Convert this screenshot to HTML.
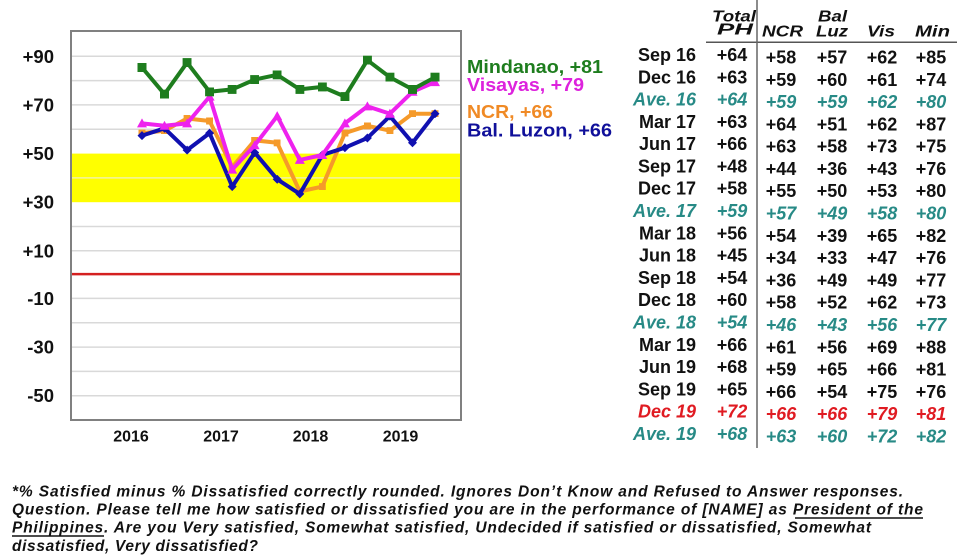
<!DOCTYPE html>
<html>
<head>
<meta charset="utf-8">
<style>
html,body{margin:0;padding:0;background:#fff;}
svg{display:block;}
text{font-family:"Liberation Sans",Arial,sans-serif;font-weight:bold;}
</style>
</head>
<body>
<svg width="960" height="556" viewBox="0 0 960 556" xmlns="http://www.w3.org/2000/svg">
<defs>
<marker id="mg" markerWidth="9" markerHeight="9" refX="4.5" refY="4.5" markerUnits="userSpaceOnUse"><rect width="9" height="9" fill="#1e7d1e"/></marker>
<marker id="mo" markerWidth="7" markerHeight="7" refX="3.5" refY="3.5" markerUnits="userSpaceOnUse"><rect width="7" height="7" fill="#f59a2a"/></marker>
<marker id="mb" markerWidth="9" markerHeight="9" refX="4.5" refY="4.5" markerUnits="userSpaceOnUse"><polygon points="4.5,0 9,4.5 4.5,9 0,4.5" fill="#1010b0"/></marker>
<marker id="mm" markerWidth="10" markerHeight="10" refX="5" refY="5" markerUnits="userSpaceOnUse"><polygon points="5,0 10,9 0,9" fill="#ee22ee"/></marker>
</defs>
<rect width="960" height="556" fill="#fff"/>

<!-- plot -->
<rect x="71" y="31" width="390" height="389" fill="#fff"/>
<rect x="71" y="153.6" width="390" height="48.6" fill="#ffff00"/>
<g stroke="#d9d9d9" stroke-width="1.5">
<line x1="71" x2="461" y1="56.3" y2="56.3"/>
<line x1="71" x2="461" y1="80.6" y2="80.6"/>
<line x1="71" x2="461" y1="104.9" y2="104.9"/>
<line x1="71" x2="461" y1="129.3" y2="129.3"/>
<line x1="71" x2="461" y1="226.5" y2="226.5"/>
<line x1="71" x2="461" y1="250.8" y2="250.8"/>
<line x1="71" x2="461" y1="298.4" y2="298.4"/>
<line x1="71" x2="461" y1="322.7" y2="322.7"/>
<line x1="71" x2="461" y1="347.1" y2="347.1"/>
<line x1="71" x2="461" y1="371.4" y2="371.4"/>
<line x1="71" x2="461" y1="395.7" y2="395.7"/>
</g>
<line x1="71" x2="461" y1="177.9" y2="177.9" stroke="#f2f2a0" stroke-width="1.5"/>
<line x1="71" x2="461" y1="274.1" y2="274.1" stroke="#d42020" stroke-width="2.5"/>
<rect x="71" y="31" width="390" height="389" fill="none" stroke="#808080" stroke-width="2"/>

<!-- series -->
<polyline fill="none" stroke="#f59a2a" stroke-width="4" stroke-linejoin="round" marker-start="url(#mo)" marker-mid="url(#mo)" marker-end="url(#mo)"
points="142,133.1 164.5,130.7 187.1,118.5 209.6,121.0 232.2,167.2 254.7,140.4 277.2,142.8 299.8,191.5 322.3,186.6 344.9,133.1 367.4,125.8 389.9,130.7 412.5,113.7 435,113.7"/>
<polyline fill="none" stroke="#1010b0" stroke-width="4" stroke-linejoin="round" marker-start="url(#mb)" marker-mid="url(#mb)" marker-end="url(#mb)"
points="142,135.6 164.5,128.3 187.1,150.1 209.6,133.1 232.2,186.6 254.7,152.6 277.2,179.3 299.8,193.9 322.3,155.0 344.9,147.7 367.4,138.0 389.9,116.1 412.5,142.8 435,113.7"/>
<polyline fill="none" stroke="#ee22ee" stroke-width="4" stroke-linejoin="round" marker-start="url(#mm)" marker-mid="url(#mm)" marker-end="url(#mm)"
points="142,123.4 164.5,125.8 187.1,123.4 209.6,96.6 232.2,169.6 254.7,145.3 277.2,116.1 299.8,159.9 322.3,155.0 344.9,123.4 367.4,106.4 389.9,113.7 412.5,91.8 435,82.1"/>
<polyline fill="none" stroke="#1e7d1e" stroke-width="4" stroke-linejoin="round" marker-start="url(#mg)" marker-mid="url(#mg)" marker-end="url(#mg)"
points="142,67.5 164.5,94.2 187.1,62.6 209.6,91.8 232.2,89.4 254.7,79.6 277.2,74.8 299.8,89.4 322.3,86.9 344.9,96.6 367.4,60.2 389.9,77.2 412.5,89.4 435,77.2"/>

<!-- y labels -->
<g font-size="18.5" text-anchor="end" fill="#111">
<text x="54" y="62.8">+90</text>
<text x="54" y="111.4">+70</text>
<text x="54" y="160.1">+50</text>
<text x="54" y="208.7">+30</text>
<text x="54" y="257.3">+10</text>
<text x="54" y="304.9">-10</text>
<text x="54" y="353.6">-30</text>
<text x="54" y="402.2">-50</text>
</g>
<!-- x labels -->
<g font-size="16" text-anchor="middle" fill="#111">
<text x="131" y="441.5">2016</text>
<text x="221" y="441.5">2017</text>
<text x="310.5" y="441.5">2018</text>
<text x="400.5" y="441.5">2019</text>
</g>

<!-- legend -->
<g font-size="18.5">
<text x="467" y="73" fill="#1e7d1e" textLength="136" lengthAdjust="spacingAndGlyphs">Mindanao, +81</text>
<text x="467" y="91" fill="#dd22dd" textLength="117" lengthAdjust="spacingAndGlyphs">Visayas, +79</text>
<text x="467" y="118" fill="#f08a25" textLength="86" lengthAdjust="spacingAndGlyphs">NCR, +66</text>
<text x="467" y="136.5" fill="#10109a" textLength="145" lengthAdjust="spacingAndGlyphs">Bal. Luzon, +66</text>
</g>

<!-- table header -->
<g font-size="15.5" font-style="italic" fill="#111">
<text x="712" y="21.3" textLength="44" lengthAdjust="spacingAndGlyphs">Total</text>
<text x="717" y="34.5" textLength="36" lengthAdjust="spacingAndGlyphs">PH</text>
<text x="762" y="36.7" textLength="41" lengthAdjust="spacingAndGlyphs">NCR</text>
<text x="818" y="21.3" textLength="29" lengthAdjust="spacingAndGlyphs">Bal</text>
<text x="816" y="36.7" textLength="32" lengthAdjust="spacingAndGlyphs">Luz</text>
<text x="867" y="36.7" textLength="28" lengthAdjust="spacingAndGlyphs">Vis</text>
<text x="915" y="36.7" textLength="35" lengthAdjust="spacingAndGlyphs">Min</text>
</g>
<line x1="706" x2="957" y1="42.3" y2="42.3" stroke="#555" stroke-width="1.5"/>
<line x1="757" x2="757" y1="0" y2="448" stroke="#666" stroke-width="1.5"/>

<!-- table rows -->
<g font-size="18" fill="#111">
<g text-anchor="end">
<text x="696" y="61">Sep 16</text>
<text x="696" y="83.3">Dec 16</text>
<text x="696" y="105.6" fill="#278a86" font-style="italic">Ave. 16</text>
<text x="696" y="127.9">Mar 17</text>
<text x="696" y="150.2">Jun 17</text>
<text x="696" y="172.5">Sep 17</text>
<text x="696" y="194.7">Dec 17</text>
<text x="696" y="217" fill="#278a86" font-style="italic">Ave. 17</text>
<text x="696" y="239.3">Mar 18</text>
<text x="696" y="261.6">Jun 18</text>
<text x="696" y="283.9">Sep 18</text>
<text x="696" y="306.2">Dec 18</text>
<text x="696" y="328.5" fill="#278a86" font-style="italic">Ave. 18</text>
<text x="696" y="350.8">Mar 19</text>
<text x="696" y="373.1">Jun 19</text>
<text x="696" y="395.4">Sep 19</text>
<text x="696" y="417.6" fill="#e01b22" font-style="italic">Dec 19</text>
<text x="696" y="439.9" fill="#278a86" font-style="italic">Ave. 19</text>
</g>
<g text-anchor="middle">
<text x="732" y="61">+64</text>
<text x="732" y="83.3">+63</text>
<text x="732" y="105.6" fill="#278a86" font-style="italic">+64</text>
<text x="732" y="127.9">+63</text>
<text x="732" y="150.2">+66</text>
<text x="732" y="172.5">+48</text>
<text x="732" y="194.7">+58</text>
<text x="732" y="217" fill="#278a86" font-style="italic">+59</text>
<text x="732" y="239.3">+56</text>
<text x="732" y="261.6">+45</text>
<text x="732" y="283.9">+54</text>
<text x="732" y="306.2">+60</text>
<text x="732" y="328.5" fill="#278a86" font-style="italic">+54</text>
<text x="732" y="350.8">+66</text>
<text x="732" y="373.1">+68</text>
<text x="732" y="395.4">+65</text>
<text x="732" y="417.6" fill="#e01b22" font-style="italic">+72</text>
<text x="732" y="439.9" fill="#278a86" font-style="italic">+68</text>
</g>
<g text-anchor="middle" transform="translate(0,2.5)">
<text x="781" y="61">+58</text><text x="832" y="61">+57</text><text x="882" y="61">+62</text><text x="931" y="61">+85</text>
<text x="781" y="83.3">+59</text><text x="832" y="83.3">+60</text><text x="882" y="83.3">+61</text><text x="931" y="83.3">+74</text>
<g fill="#278a86" font-style="italic"><text x="781" y="105.6">+59</text><text x="832" y="105.6">+59</text><text x="882" y="105.6">+62</text><text x="931" y="105.6">+80</text></g>
<text x="781" y="127.9">+64</text><text x="832" y="127.9">+51</text><text x="882" y="127.9">+62</text><text x="931" y="127.9">+87</text>
<text x="781" y="150.2">+63</text><text x="832" y="150.2">+58</text><text x="882" y="150.2">+73</text><text x="931" y="150.2">+75</text>
<text x="781" y="172.5">+44</text><text x="832" y="172.5">+36</text><text x="882" y="172.5">+43</text><text x="931" y="172.5">+76</text>
<text x="781" y="194.7">+55</text><text x="832" y="194.7">+50</text><text x="882" y="194.7">+53</text><text x="931" y="194.7">+80</text>
<g fill="#278a86" font-style="italic"><text x="781" y="217">+57</text><text x="832" y="217">+49</text><text x="882" y="217">+58</text><text x="931" y="217">+80</text></g>
<text x="781" y="239.3">+54</text><text x="832" y="239.3">+39</text><text x="882" y="239.3">+65</text><text x="931" y="239.3">+82</text>
<text x="781" y="261.6">+34</text><text x="832" y="261.6">+33</text><text x="882" y="261.6">+47</text><text x="931" y="261.6">+76</text>
<text x="781" y="283.9">+36</text><text x="832" y="283.9">+49</text><text x="882" y="283.9">+49</text><text x="931" y="283.9">+77</text>
<text x="781" y="306.2">+58</text><text x="832" y="306.2">+52</text><text x="882" y="306.2">+62</text><text x="931" y="306.2">+73</text>
<g fill="#278a86" font-style="italic"><text x="781" y="328.5">+46</text><text x="832" y="328.5">+43</text><text x="882" y="328.5">+56</text><text x="931" y="328.5">+77</text></g>
<text x="781" y="350.8">+61</text><text x="832" y="350.8">+56</text><text x="882" y="350.8">+69</text><text x="931" y="350.8">+88</text>
<text x="781" y="373.1">+59</text><text x="832" y="373.1">+65</text><text x="882" y="373.1">+66</text><text x="931" y="373.1">+81</text>
<text x="781" y="395.4">+66</text><text x="832" y="395.4">+54</text><text x="882" y="395.4">+75</text><text x="931" y="395.4">+76</text>
<g fill="#e01b22" font-style="italic"><text x="781" y="417.6">+66</text><text x="832" y="417.6">+66</text><text x="882" y="417.6">+79</text><text x="931" y="417.6">+81</text></g>
<g fill="#278a86" font-style="italic"><text x="781" y="439.9">+63</text><text x="832" y="439.9">+60</text><text x="882" y="439.9">+72</text><text x="931" y="439.9">+82</text></g>
</g>
</g>

<!-- footnote -->
<g font-size="15.5" font-style="italic" fill="#111">
<text x="12" y="496.7" textLength="891" lengthAdjust="spacing">*% Satisfied minus % Dissatisfied correctly rounded. Ignores Don’t Know and Refused to Answer responses.</text>
<text x="12" y="514.3" textLength="911" lengthAdjust="spacing">Question. Please tell me how satisfied or dissatisfied you are in the performance of [NAME] as President of the</text>
<text x="12" y="532.7" textLength="859" lengthAdjust="spacing">Philippines. Are you Very satisfied, Somewhat satisfied, Undecided if satisfied or dissatisfied, Somewhat</text>
<text x="12" y="551" textLength="246" lengthAdjust="spacing">dissatisfied, Very dissatisfied?</text>
</g>
<line x1="795" x2="923" y1="518" y2="518" stroke="#111" stroke-width="1.5"/>
<line x1="12" x2="104" y1="536" y2="536" stroke="#111" stroke-width="1.5"/>
</svg>
</body>
</html>
